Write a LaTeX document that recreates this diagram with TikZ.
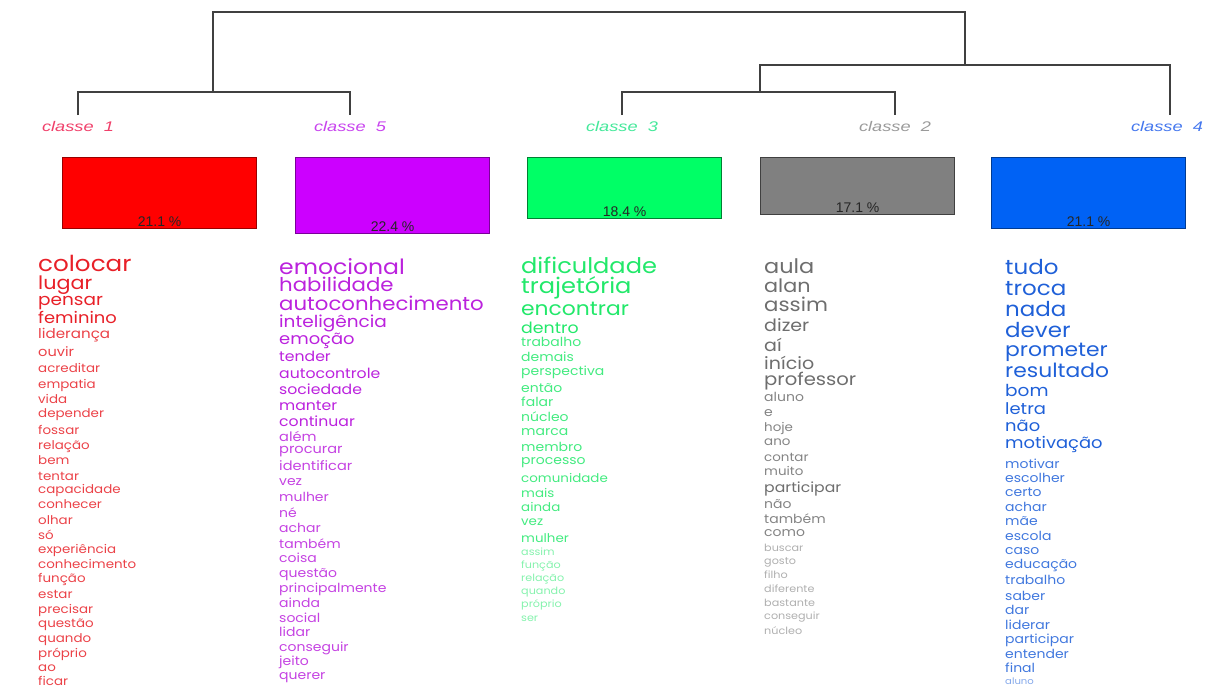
\documentclass[tikz,border=0pt]{standalone}
\usepackage{fontspec}
\setmainfont{Liberation Sans}
\newfontfamily\wf{Poppins}
\usepackage{graphicx}
\definecolor{r1}{HTML}{E82028}
\definecolor{r5}{HTML}{BB22DD}
\definecolor{r3}{HTML}{22E86A}
\definecolor{r2}{HTML}{6E6E6E}
\definecolor{r4}{HTML}{1F60D8}
\definecolor{f1}{HTML}{FF0000}
\definecolor{f5}{HTML}{CC00FF}
\definecolor{f3}{HTML}{00FF66}
\definecolor{f2}{HTML}{808080}
\definecolor{f4}{HTML}{0062F5}
\definecolor{l1}{HTML}{F0406A}
\definecolor{l5}{HTML}{C844EE}
\definecolor{l3}{HTML}{44E89A}
\definecolor{l2}{HTML}{9A9A9A}
\definecolor{l4}{HTML}{4477EE}
\newcommand\hs{1.12}
\newcommand\wordcol[4]{%
  \foreach \ww/\yy/\fs [count=\i] in {#4} {%
    \pgfmathsetmacro\fade{\fs<11 ? 55 : (\fs<14 ? 85 : 100)}%
    \node[word, text=#3!\fade!white, font=\wf\fontsize{\fs}{\fs}\selectfont] (#1\i) at (#2,{\yy+0.3*\fs}) {\scalebox{\hs}[1]{\ww}};}}
\begin{document}
\begin{tikzpicture}[x=1pt,y=-1pt,
  dend/.style={draw=black!75, line width=1.3pt},
  lab/.style={font=\itshape\fontsize{14}{14}\selectfont, inner sep=0pt},
  box/.style={anchor=north west, minimum width=194pt, line width=1.3pt, inner sep=0pt},
  pct/.style={anchor=base, font=\fontsize{14}{14}\selectfont, text=black!85, inner sep=0pt},
  word/.style={anchor=base west, inner sep=0pt}]
\useasboundingbox (0,0) rectangle (1213,689);
% dendrogram
\coordinate (t1) at (78,115);
\coordinate (t5) at (350,115);
\coordinate (t3) at (622,115);
\coordinate (t2) at (895,115);
\coordinate (t4) at (1170,115);
\coordinate (j15) at (213,92);
\coordinate (j32) at (760,92);
\coordinate (j324) at (965,65);
\coordinate (root) at (589,12);
\draw[dend] (t1) |- (j15) -| (t5);
\draw[dend] (t3) |- (j32) -| (t2);
\draw[dend] (j32) |- (j324) -| (t4);
\draw[dend] (j15) |- (root) -| (j324);
% class labels
\node[lab, text=l1] (c1) at (78,126) {\scalebox{1.3}[1]{classe\ \ 1}};
\node[lab, text=l5] (c5) at (350,126) {\scalebox{1.3}[1]{classe\ \ 5}};
\node[lab, text=l3] (c3) at (622,126) {\scalebox{1.3}[1]{classe\ \ 3}};
\node[lab, text=l2] (c2) at (895,126) {\scalebox{1.3}[1]{classe\ \ 2}};
\node[lab, text=l4] (c4) at (1167,126) {\scalebox{1.3}[1]{classe\ \ 4}};
% boxes
\node[box, fill=f1, draw=f1!60!black, minimum height=71pt] (b1) at (62,157) {};
\node[box, fill=f5, draw=f5!60!black, minimum height=76pt] (b5) at (295,157) {};
\node[box, fill=f3, draw=f3!50!black, minimum height=61pt] (b3) at (527,157) {};
\node[box, fill=f2, draw=f2!50!black, minimum height=57pt] (b2) at (760,157) {};
\node[box, fill=f4, draw=f4!60!black, minimum height=71pt] (b4) at (991,157) {};
\node[pct] (p1) at ([yshift=3pt]b1.south) {21.1 \%};
\node[pct] (p5) at ([yshift=3pt]b5.south) {22.4 \%};
\node[pct] (p3) at ([yshift=3pt]b3.south) {18.4 \%};
\node[pct] (p2) at ([yshift=3pt]b2.south) {17.1 \%};
\node[pct] (p4) at ([yshift=3pt]b4.south) {21.1 \%};
% word lists
\wordcol{wa}{38}{r1}{colocar/265/22, lugar/284/18.5, pensar/301/16.5, feminino/319/16, liderança/334/13.5, ouvir/353/13, acreditar/369/12, empatia/385/12, vida/400/12, depender/414/12, fossar/431/12, relação/446/12, bem/461/12, tentar/477/12, capacidade/490/12, conhecer/505/12, olhar/521/12, só/536/12, experiência/550/12, conhecimento/565/12, função/579/12, estar/595/12, precisar/610/12, questão/624/12, quando/639/12, próprio/654/12, ao/668/12, ficar/682/12}
\wordcol{wb}{279}{r5}{emocional/268/21, habilidade/286/19, autoconhecimento/305/19, inteligência/323/16.5, emoção/340/16, tender/357/14, autocontrole/374/14, sociedade/390/14, manter/406/14, continuar/422/14, além/438/13, procurar/450/13, identificar/467/13, vez/482/12.5, mulher/498/12.5, né/514/12.5, achar/529/12.5, também/545/12.5, coisa/559/12.5, questão/574/12.5, principalmente/589/12.5, ainda/604/12.5, social/619/12.5, lidar/633/12.5, conseguir/648/12.5, jeito/662/12.5, querer/676/12.5}
\wordcol{wc}{521}{r3}{dificuldade/267/21.5, trajetória/287/21.5, encontrar/310/19.5, dentro/329/15.5, trabalho/343/12.5, demais/358/12.5, perspectiva/372/12.5, então/389/12.5, falar/403/12.5, núcleo/418/12.5, marca/432/12.5, membro/448/12.5, processo/461/12.5, comunidade/479/12, mais/494/12, ainda/508/12, vez/522/12, mulher/539/12, assim/552/10, função/565/10, relação/578/10, quando/591/10, próprio/604/10, ser/618/10}
\wordcol{wd}{764}{r2}{aula/267/20, alan/287/18.5, assim/306/19, dizer/326/17, aí/346/17, início/364/17, professor/380/17.5, aluno/398/12.5, e/413/12.5, hoje/428/12, ano/442/12, contar/458/12, muito/472/12, participar/488/14, não/505/12.5, também/520/12.5, como/533/12.5, buscar/548/10, gosto/561/10, filho/575/10, diferente/589/10, bastante/603/10, conseguir/616/10, núcleo/631/10}
\wordcol{we}{1005}{r4}{tudo/268/20.5, troca/289/20.5, nada/310/20.5, dever/331/20.5, prometer/351/19.5, resultado/372/19.5, bom/392/16.5, letra/410/16, não/427/16, motivação/444/16, motivar/465/12.5, escolher/479/12.5, certo/493/12.5, achar/508/12.5, mãe/522/12.5, escola/537/12.5, caso/551/12.5, educação/565/12.5, trabalho/581/12.5, saber/597/12.5, dar/611/12.5, liderar/626/12.5, participar/640/12.5, entender/655/12.5, final/669/12.5, aluno/682/9}
\end{tikzpicture}
\end{document}
